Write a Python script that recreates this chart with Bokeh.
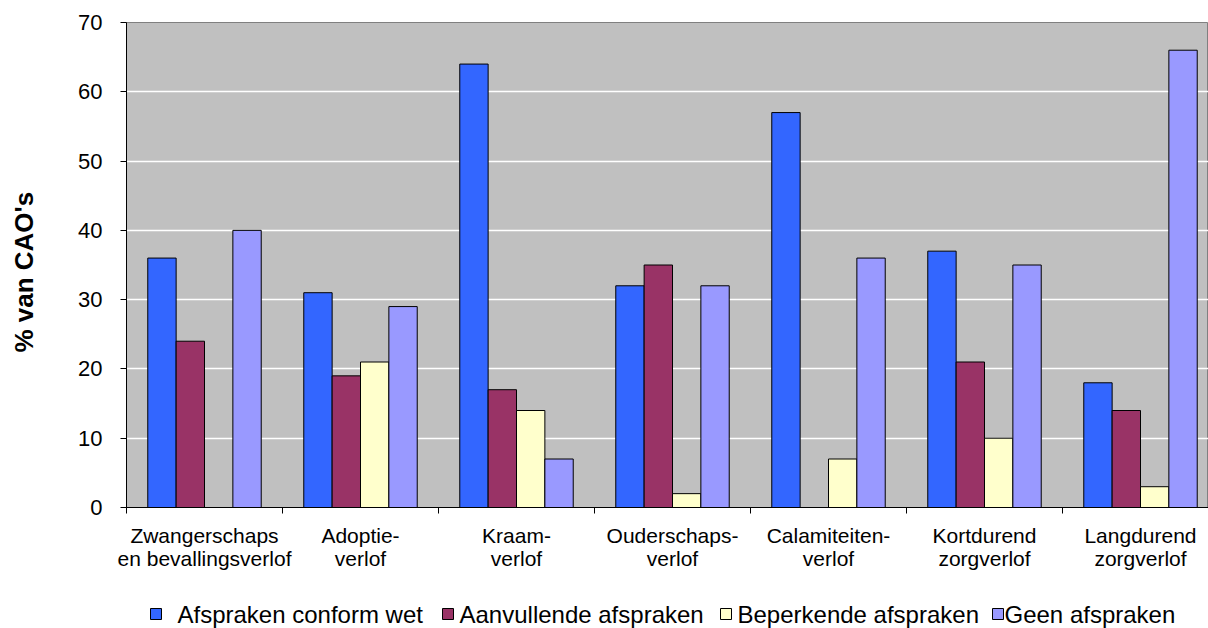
from bokeh.plotting import figure
from bokeh.layouts import column
from bokeh.models import Range1d, FixedTicker
from bokeh.core.properties import value
from bokeh.embed import file_html
from bokeh.resources import INLINE

# Leave types (two-line category labels)
categories = [
    "Zwangerschaps\nen bevallingsverlof",
    "Adoptie-\nverlof",
    "Kraam-\nverlof",
    "Ouderschaps-\nverlof",
    "Calamiteiten-\nverlof",
    "Kortdurend\nzorgverlof",
    "Langdurend\nzorgverlof",
]

series_names = [
    "Afspraken conform wet",
    "Aanvullende afspraken",
    "Beperkende afspraken",
    "Geen afspraken",
]

conform_wet = [36, 31, 64, 32, 57, 37, 18]
aanvullend = [24, 19, 17, 35, 0, 21, 14]
beperkend = [0, 21, 14, 2, 7, 10, 3]
geen = [40, 29, 7, 32, 36, 35, 66]

y_ticks = [0, 10, 20, 30, 40, 50, 60, 70]

colors = ["#3366FF", "#993366", "#FFFFCC", "#9999FF"]
FONT = "Liberation Sans"

n_cat = len(categories)
cat_px = 156.0          # pixel width of one category slot
W = 1208
main_h, legend_h = 598, 30
left_px, top_px, bottom_px = 126, 22, 91
x_end = (W - left_px) / cat_px

p = figure(
    width=W, height=main_h,
    output_backend="svg", toolbar_location=None,
    x_range=Range1d(0, x_end), y_range=Range1d(0, 70),
    min_border_left=left_px, min_border_right=0,
    min_border_top=top_px, min_border_bottom=bottom_px,
)
p.background_fill_color = "#C0C0C0"
p.border_fill_color = "white"
p.outline_line_color = "#808080"
p.outline_line_width = 1

# Clustered bars: 4 bars per slot, 150% gap
bar_w = 1 / 5.5
for k, vals in enumerate([conform_wet, aanvullend, beperkend, geen]):
    xs = [i + (0.75 + 0.5 + k) * bar_w for i in range(n_cat)]
    p.vbar(x=xs, top=vals, width=bar_w, bottom=0,
           fill_color=colors[k], line_color="black", line_width=1)

# Grid
p.xgrid.grid_line_color = None
p.ygrid.grid_line_color = "white"
p.ygrid.grid_line_width = 1.5
p.ygrid.ticker = FixedTicker(ticks=y_ticks[1:-1])

# Y axis
ya = p.yaxis[0]
ya.ticker = FixedTicker(ticks=y_ticks, minor_ticks=[])
ya.axis_line_color = "black"
ya.major_tick_line_color = "black"
ya.major_tick_out = 6
ya.major_tick_in = 0
ya.minor_tick_out = 0
ya.major_label_standoff = 18
ya.major_label_text_font = FONT
ya.major_label_text_font_size = "22px"
ya.major_label_text_color = "black"
# trailing no-break spaces nudge the rotated title slightly downwards
ya.axis_label = "% van CAO's\u00a0\u00a0"
ya.axis_label_text_font = FONT
ya.axis_label_text_font_size = "26px"
ya.axis_label_text_font_style = "bold"
ya.axis_label_text_color = "black"
ya.axis_label_standoff = 36

# X axis: labels at slot centres, tick marks at slot boundaries
centers = [i + 0.5 for i in range(n_cat)]
bounds = list(range(n_cat + 1))
xa = p.xaxis[0]
xa.ticker = FixedTicker(ticks=centers, minor_ticks=bounds)
xa.major_label_overrides = {c: lab for c, lab in zip(centers, categories)}
xa.major_tick_out = 0
xa.major_tick_in = 0
xa.minor_tick_out = 6
xa.minor_tick_in = 0
xa.minor_tick_line_color = "black"
xa.axis_line_color = "black"
xa.major_label_standoff = 10
xa.major_label_text_font = FONT
xa.major_label_text_font_size = "21px"
xa.major_label_text_line_height = 1.0
xa.major_label_text_color = "black"

# Legend strip underneath the chart (frame shares the chart's left edge,
# so its x coordinates are page pixels)
lg = figure(
    width=W, height=legend_h,
    output_backend="svg", toolbar_location=None,
    x_range=Range1d(left_px, W), y_range=Range1d(0, legend_h),
    min_border_left=left_px, min_border_right=0,
    min_border_top=0, min_border_bottom=0,
)
lg.axis.visible = False
lg.grid.visible = False
lg.outline_line_color = None
lg.background_fill_color = "white"
lg.border_fill_color = "white"

swatch_x = [155.5, 447.5, 725.5, 997.5]
label_x = [177, 459, 737, 1004]
lg.rect(x=swatch_x, y=[14.5] * 4, width=11, height=11,
        width_units="screen", height_units="screen",
        fill_color=colors, line_color="black", line_width=1)
lg.text(x=label_x, y=[14] * 4, text=series_names,
        text_font=value(FONT), text_font_size="24px",
        text_align="left", text_baseline="middle", text_color="black")

open("out.html", "w").write(file_html(column(p, lg, spacing=0), INLINE))
